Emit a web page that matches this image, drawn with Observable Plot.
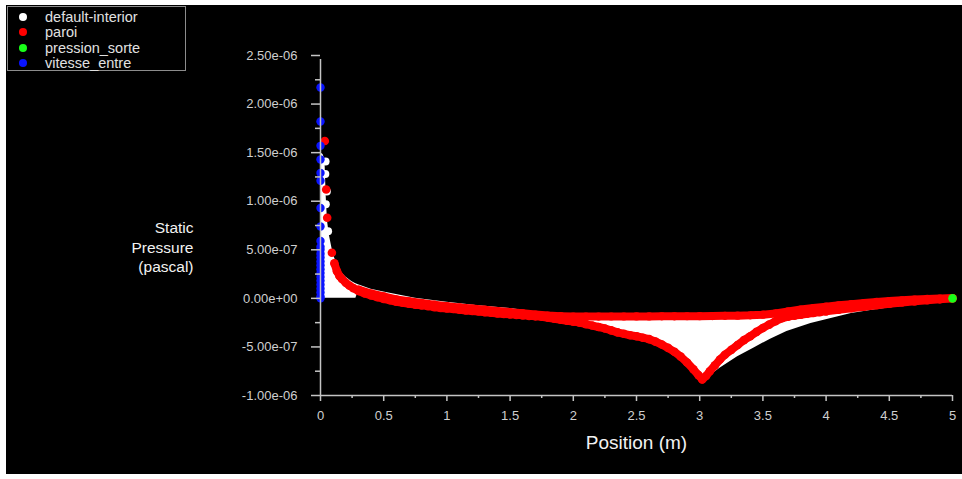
<!DOCTYPE html>
<html>
<head>
<meta charset="utf-8">
<script src="https://cdn.jsdelivr.net/npm/d3@7"></script>
<script src="https://cdn.jsdelivr.net/npm/@observablehq/plot@0.6"></script>
<style>
  html, body { margin: 0; padding: 0; background: #ffffff; }
  #panel { position: absolute; left: 6px; top: 5px; width: 956px; height: 469px; background: #000; overflow: hidden; }
  #panel svg { position: absolute; left: 0; top: 0; }
  #legend { position: absolute; left: 1px; top: 1px; width: 177px; height: 63px; border: 1px solid #8c8c8c;
            font-family: "Liberation Sans", Arial, sans-serif; font-size: 14.5px; color: #e0e0e0; z-index: 2; }
  .item { position: absolute; left: 0; height: 16px; line-height: 16px; white-space: nowrap; }
  .item span.dot { position: absolute; left: 11px; top: 4px; width: 8px; height: 8px; border-radius: 50%; }
  .item span.lab { position: absolute; left: 37px; top: 0; }
</style>
</head>
<body>
<div id="panel"><div id="legend"></div></div>
<script>
// ---- data (Position in m, Static Pressure in Pa) ----
const seriesNames = ["default-interior", "paroi", "pression_sorte", "vitesse_entre"];
const seriesColors = ["#ffffff", "#ff0000", "#19ff19", "#0a14ff"];

const xTicks = [0, 0.5, 1, 1.5, 2, 2.5, 3, 3.5, 4, 4.5, 5];
const xTickLabels = ["0", "0.5", "1", "1.5", "2", "2.5", "3", "3.5", "4", "4.5", "5"];
const xMinor = [0.25, 0.75, 1.25, 1.75, 2.25, 2.75, 3.25, 3.75, 4.25, 4.75];
const yTicks = [-1e-6, -5e-7, 0, 5e-7, 1e-6, 1.5e-6, 2e-6, 2.5e-6];
const yTickLabels = ["-1.00e-06", "-5.00e-07", "0.00e+00", "5.00e-07", "1.00e-06", "1.50e-06", "2.00e-06", "2.50e-06"];
const yMinor = [-7.5e-7, -2.5e-7, 2.5e-7, 7.5e-7, 1.25e-6, 1.75e-6, 2.25e-6];

// paroi, wall branch through the dip near x = 3
const paroiAX = [0.034, 0.045, 0.053, 0.09, 0.11, 0.13, 0.15, 0.17, 0.2, 0.23, 0.26, 0.3, 0.35, 0.4, 0.45, 0.5,
  0.55, 0.6, 0.65, 0.7, 0.75, 0.8, 0.85, 0.9, 0.95, 1.0, 1.05, 1.1, 1.15, 1.2, 1.25, 1.3, 1.35, 1.4, 1.45, 1.5, 1.55, 1.6,
  1.65, 1.7, 1.75, 1.8, 1.85, 1.9, 1.95, 2.0, 2.05, 2.1, 2.15, 2.2, 2.25, 2.3, 2.35, 2.4, 2.45, 2.5, 2.55, 2.6, 2.65, 2.7,
  2.75, 2.8, 2.85, 2.9, 2.95, 2.99, 3.02, 3.05, 3.08, 3.12, 3.16, 3.2, 3.25, 3.3, 3.35, 3.4, 3.45, 3.5, 3.55, 3.6, 3.65,
  3.7, 3.75, 3.8, 3.85, 3.9, 3.95, 4.0, 4.1, 4.2, 4.3, 4.4, 4.5, 4.6, 4.7, 4.8, 4.9, 5.0];
const paroiAP = [1.62e-6, 1.12e-6, 8.3e-7, 4.7e-7, 3.6e-7, 2.8e-7, 2.3e-7, 2.0e-7, 1.6e-7, 1.3e-7, 1.05e-7,
  7.5e-8, 5.0e-8, 3.0e-8, 1.2e-8, -5e-9,
  -2.0e-8, -3.5e-8, -4.5e-8, -5.5e-8, -6.5e-8, -7.2e-8, -8.0e-8, -9.0e-8, -1.0e-7, -1.05e-7, -1.1e-7, -1.18e-7, -1.25e-7,
  -1.3e-7, -1.35e-7, -1.42e-7, -1.48e-7, -1.55e-7, -1.6e-7, -1.65e-7, -1.7e-7, -1.75e-7,
  -1.8e-7, -1.85e-7, -1.9e-7, -2.0e-7, -2.1e-7, -2.2e-7, -2.3e-7, -2.4e-7, -2.5e-7, -2.65e-7, -2.8e-7, -2.95e-7, -3.1e-7,
  -3.3e-7, -3.5e-7, -3.65e-7, -3.8e-7, -3.9e-7, -4.05e-7, -4.2e-7, -4.45e-7, -4.75e-7,
  -5.1e-7, -5.5e-7, -6.0e-7, -6.6e-7, -7.3e-7, -7.9e-7, -8.35e-7, -8.0e-7, -7.5e-7, -6.9e-7, -6.3e-7, -5.8e-7, -5.3e-7,
  -4.8e-7, -4.3e-7, -3.9e-7, -3.45e-7, -3.05e-7, -2.7e-7, -2.35e-7, -2.05e-7,
  -1.88e-7, -1.78e-7, -1.68e-7, -1.58e-7, -1.5e-7, -1.42e-7, -1.34e-7, -1.18e-7, -1.02e-7, -8.6e-8, -7.0e-8, -5.6e-8,
  -4.3e-8, -3.1e-8, -2.0e-8, -1.0e-8, 0];

// paroi, the other wall branch (upper edge of the band)
const paroiBX = [0.3, 0.4, 0.5, 0.6, 0.7, 0.8, 0.9, 1.0, 1.1, 1.2, 1.3, 1.4, 1.5, 1.6, 1.7, 1.8, 1.9, 2.0, 2.1, 2.2, 2.3,
  2.4, 2.5, 2.6, 2.7, 2.8, 2.9, 3.0, 3.1, 3.2, 3.3, 3.4, 3.5, 3.6, 3.7, 3.8, 3.9, 4.0, 4.1, 4.2, 4.3, 4.4, 4.5, 4.6, 4.7,
  4.8, 4.9, 5.0];
const paroiBP = [9.0e-8, 5.0e-8, 2.0e-8, -1.0e-8, -3.0e-8, -4.8e-8, -6.5e-8, -8.0e-8, -9.3e-8, -1.05e-7, -1.17e-7, -1.3e-7,
  -1.42e-7, -1.54e-7, -1.66e-7, -1.77e-7, -1.83e-7, -1.87e-7, -1.88e-7, -1.88e-7, -1.87e-7,
  -1.87e-7, -1.86e-7, -1.86e-7, -1.85e-7, -1.85e-7, -1.84e-7, -1.83e-7, -1.82e-7, -1.8e-7, -1.78e-7, -1.75e-7, -1.68e-7,
  -1.55e-7, -1.35e-7, -1.15e-7, -1.0e-7, -8.5e-8, -7.2e-8, -6.0e-8, -4.8e-8, -3.7e-8, -2.8e-8, -2.0e-8, -1.2e-8,
  -6e-9, -2e-9, 2e-9];

// default-interior: range of interior node values (lower / upper envelope)
const interiorX  = [0.0, 0.02, 0.035, 0.045, 0.055, 0.07, 0.09, 0.11, 0.14, 0.17, 0.2, 0.25, 0.28, 0.3, 0.4, 0.5, 0.75,
  1.0, 1.25, 1.5, 1.65, 1.75, 2.0, 2.5, 2.85, 3.02, 3.09, 3.16, 3.3, 3.43, 3.56, 3.69, 3.88, 4.0, 4.2, 4.4, 4.6, 4.8, 4.95, 5.0];
const interiorLo = [0, 0, 0, 0, 0, 0, 0, 0, 0, 0, 0, 0, 0, 7.5e-8, 3.0e-8, -5e-9, -6.5e-8,
  -1.05e-7, -1.35e-7, -1.65e-7, -1.8e-7, -1.9e-7, -2.4e-7, -3.9e-7, -6.0e-7, -8.5e-7, -7.9e-7, -7.2e-7, -6.0e-7, -5.1e-7,
  -4.2e-7, -3.4e-7, -2.6e-7, -2.2e-7, -1.55e-7, -1.15e-7, -8.5e-8, -5.0e-8, -1.8e-8, 0];
const interiorHi = [1.5e-6, 1.48e-6, 1.43e-6, 1.05e-6, 8.0e-7, 6.5e-7, 5.2e-7, 4.2e-7, 3.2e-7, 2.6e-7, 2.2e-7, 1.7e-7,
  1.5e-7, 1.4e-7, 9.5e-8, 6.5e-8, 0,
  -4.0e-8, -7.5e-8, -1.05e-7, -1.3e-7, -1.6e-7, -1.7e-7, -1.7e-7, -1.7e-7, -1.7e-7, -1.7e-7, -1.7e-7, -1.7e-7, -1.65e-7,
  -1.55e-7, -1.35e-7, -9.0e-8, -7.0e-8, -4.5e-8, -2.5e-8, -1.0e-8, 0, 5e-9, 8e-9];
// a few isolated interior nodes near the inlet
const interiorDotX = [0.04, 0.038, 0.042, 0.06, 0.05];
const interiorDotP = [1.41e-6, 1.28e-6, 9.7e-7, 6.9e-7, 1.1e-6];

// vitesse_entre: inlet nodes at x = 0
const inletP = [2.17e-6, 1.82e-6, 1.57e-6, 1.43e-6, 1.29e-6, 1.21e-6, 9.3e-7, 7.4e-7, 5.9e-7,
  5.3e-7, 5.0e-7, 4.6e-7, 4.2e-7, 3.8e-7, 3.4e-7, 3.0e-7, 2.6e-7, 2.2e-7, 1.8e-7, 1.4e-7, 1.0e-7, 6e-8, 2e-8, 0];
// pression_sorte: outlet node
const outletX = [5.0];
const outletP = [0];

// ---- build tables ----
const paroiA = paroiAX.map((x, i) => ({x, p: paroiAP[i]}));
const paroiB = paroiBX.map((x, i) => ({x, p: paroiBP[i]}));
const interior = interiorX.map((x, i) => ({x, lo: interiorLo[i], hi: interiorHi[i]}));
const interiorDots = interiorDotX.map((x, i) => ({x, p: interiorDotP[i]}));
const inlet = inletP.map(p => ({x: 0, p}));
const outlet = outletX.map((x, i) => ({x, p: outletP[i]}));
const yTickRows = yTicks.map((v, i) => ({v, label: yTickLabels[i]}));
const xTickRows = xTicks.map((v, i) => ({v, label: xTickLabels[i]}));

const xDomain = [0, 5];
const yDomain = [-1e-6, 2.5e-6];
const AXIS = "#c4c4c4";
const TEXT = "#cfcfcf";
const FONT = "'Liberation Sans', Arial, sans-serif";

const chart = Plot.plot({
  width: 956,
  height: 469,
  marginLeft: 314,
  marginRight: 10,
  marginTop: 50,
  marginBottom: 79,
  style: {background: "black", color: TEXT, fontFamily: FONT, fontSize: "13px", overflow: "visible"},
  x: {domain: xDomain, axis: null},
  y: {domain: yDomain, axis: null},
  marks: [
    Plot.areaY(interior, {x: "x", y1: "lo", y2: "hi", fill: seriesColors[0]}),
    Plot.dot(interiorDots, {x: "x", y: "p", r: 4, fill: seriesColors[0]}),
    Plot.line(paroiA.filter(d => d.x >= 0.1), {x: "x", y: "p", stroke: seriesColors[1], strokeWidth: 8}),
    Plot.line(paroiB, {x: "x", y: "p", stroke: seriesColors[1], strokeWidth: 8}),
    Plot.dot(paroiA, {x: "x", y: "p", r: 4.3, fill: seriesColors[1]}),
    Plot.dot(paroiB, {x: "x", y: "p", r: 4.1, fill: seriesColors[1]}),
    Plot.dot(outlet, {x: "x", y: "p", r: 4.3, fill: seriesColors[2]}),
    Plot.dot(inlet, {x: "x", y: "p", r: 4.2, fill: seriesColors[3]}),
    // axis lines
    Plot.ruleX([xDomain[0]], {y1: yDomain[0], y2: yDomain[1], stroke: AXIS, strokeWidth: 1.5, insetBottom: -4}),
    Plot.ruleY([yDomain[0]], {x1: xDomain[0], x2: xDomain[1], stroke: AXIS, strokeWidth: 1.5}),
    // y ticks
    Plot.ruleY(yTicks, {x1: xDomain[0], x2: xDomain[0], insetLeft: -9, stroke: AXIS, strokeWidth: 1.5}),
    Plot.ruleY(yMinor, {x1: xDomain[0], x2: xDomain[0], insetLeft: -5, stroke: AXIS, strokeWidth: 1.5}),
    Plot.text(yTickRows, {x: () => xDomain[0], y: "v", text: "label", textAnchor: "end", dx: -23, fill: TEXT, fontSize: 13}),
    // x ticks
    Plot.ruleX(xTicks, {y1: yDomain[0], y2: yDomain[0], insetBottom: -6, stroke: AXIS, strokeWidth: 1.5}),
    Plot.ruleX(xMinor, {y1: yDomain[0], y2: yDomain[0], insetBottom: -3, stroke: AXIS, strokeWidth: 1.5}),
    Plot.text(xTickRows, {x: "v", y: () => yDomain[0], text: "label", lineAnchor: "middle", dy: 20, fill: TEXT, fontSize: 13}),
    // axis titles
    Plot.text(["Static\nPressure\n(pascal)"], {frameAnchor: "left", textAnchor: "end", lineAnchor: "middle",
      dx: -127, dy: 21, fontSize: 15.5, lineHeight: 1.26, fill: "#f2f2f2"}),
    Plot.text(["Position (m)"], {frameAnchor: "bottom", lineAnchor: "middle", dy: 47, fontSize: 19, fill: "#f2f2f2"})
  ]
});
document.getElementById("panel").appendChild(chart);

// legend
const legend = document.getElementById("legend");
const rowTops = [2, 17, 33, 48];
seriesNames.forEach((name, i) => {
  const row = document.createElement("div");
  row.className = "item";
  row.style.top = rowTops[i] + "px";
  row.innerHTML = `<span class="dot" style="background:${seriesColors[i]}"></span><span class="lab">${name}</span>`;
  legend.appendChild(row);
});
</script>
</body>
</html>
